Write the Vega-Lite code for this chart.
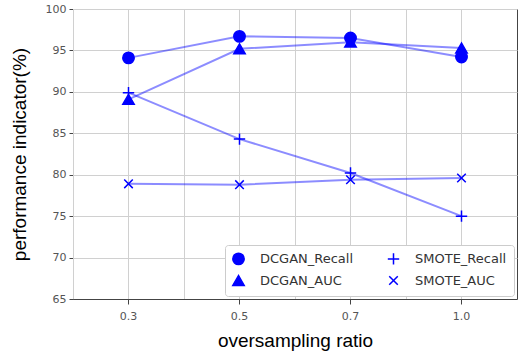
{
  "$schema": "https://vega.github.io/schema/vega-lite/v6.json",
  "width": 518,
  "height": 358,
  "autosize": {"type": "fit", "contains": "padding"},
  "padding": {"left": 10, "top": 3, "right": 1, "bottom": 8},
  "background": "white",
  "config": {
    "view": {"stroke": "#444", "strokeWidth": 1},
    "font": "DejaVu Sans",
    "axis": {"labelFont": "DejaVu Sans", "labelFontSize": 11, "labelColor": "#555", "titleFont": "Liberation Sans", "titleFontSize": 19, "titleFontWeight": "normal", "titleColor": "#000", "gridColor": "#d0d0d0", "gridWidth": 1, "domainColor": "#444", "tickColor": "#444"},
    "legend": {"orient": "bottom-right", "offset": 3, "columns": 2, "strokeColor": "#ccc", "fillColor": "white", "padding": 7, "cornerRadius": 3, "labelFont": "DejaVu Sans", "labelFontSize": 13, "labelColor": "#333", "symbolSize": 130, "columnPadding": 30, "rowPadding": 4, "labelOffset": 15}
  },
  "data": {
    "values": [
      {"ratio": "0.3", "series": "DCGAN_Recall", "value": 94.1},
      {"ratio": "0.5", "series": "DCGAN_Recall", "value": 96.7},
      {"ratio": "0.7", "series": "DCGAN_Recall", "value": 96.5},
      {"ratio": "1.0", "series": "DCGAN_Recall", "value": 94.2},
      {"ratio": "0.3", "series": "DCGAN_AUC", "value": 89.1},
      {"ratio": "0.5", "series": "DCGAN_AUC", "value": 95.2},
      {"ratio": "0.7", "series": "DCGAN_AUC", "value": 96.0},
      {"ratio": "1.0", "series": "DCGAN_AUC", "value": 95.3},
      {"ratio": "0.3", "series": "SMOTE_Recall", "value": 89.9},
      {"ratio": "0.5", "series": "SMOTE_Recall", "value": 84.3},
      {"ratio": "0.7", "series": "SMOTE_Recall", "value": 80.2},
      {"ratio": "1.0", "series": "SMOTE_Recall", "value": 75.0},
      {"ratio": "0.3", "series": "SMOTE_AUC", "value": 78.9},
      {"ratio": "0.5", "series": "SMOTE_AUC", "value": 78.8},
      {"ratio": "0.7", "series": "SMOTE_AUC", "value": 79.4},
      {"ratio": "1.0", "series": "SMOTE_AUC", "value": 79.6}
    ]
  },
  "layer": [
    {
      "transform": [{"aggregate": [], "groupby": ["ratio"]}],
      "mark": {"type": "rule", "color": "#d0d0d0", "strokeWidth": 1, "xOffset": 0.5},
      "encoding": {
        "x": {"field": "ratio", "type": "ordinal", "bandPosition": 0, "scale": {"type": "band", "paddingInner": 0, "paddingOuter": 0}, "axis": {"title": "oversampling ratio", "labelAngle": 0, "grid": true, "tickSize": 5, "labelPadding": 6, "titlePadding": 10}}
      }
    },
    {
      "mark": {"type": "line", "color": "#0000ff", "opacity": 0.45, "strokeWidth": 2},
      "encoding": {
        "x": {"field": "ratio", "type": "ordinal"},
        "y": {"field": "value", "type": "quantitative", "scale": {"domain": [65, 100], "nice": false, "zero": false}, "axis": {"values": [65, 70, 75, 80, 85, 90, 95, 100], "title": "performance indicator(%)", "grid": true, "tickSize": 4, "labelPadding": 3, "titlePadding": 16}},
        "detail": {"field": "series"}
      }
    },
    {
      "mark": {"type": "point", "filled": false, "stroke": "#0000ff", "strokeWidth": 1.5, "size": 130, "opacity": 1},
      "encoding": {
        "x": {"field": "ratio", "type": "ordinal"},
        "y": {"field": "value", "type": "quantitative"},
        "shape": {"field": "series", "type": "nominal", "scale": {"domain": ["DCGAN_Recall", "DCGAN_AUC", "SMOTE_Recall", "SMOTE_AUC"], "range": ["circle", "triangle-up", "M-1,0H1M0,-1V1", "M-0.75,-0.75L0.75,0.75M-0.75,0.75L0.75,-0.75"]}, "legend": {"title": null, "encode": {"symbols": {"update": {"stroke": {"value": "#0000ff"}, "strokeWidth": {"value": 1.5}}}}}},
        "fill": {"field": "series", "type": "nominal", "scale": {"domain": ["DCGAN_Recall", "DCGAN_AUC", "SMOTE_Recall", "SMOTE_AUC"], "range": ["#0000ff", "#0000ff", "transparent", "transparent"]}, "legend": {"title": null, "encode": {"symbols": {"update": {"stroke": {"value": "#0000ff"}, "strokeWidth": {"value": 1.5}}}}}}
      }
    }
  ]
}
